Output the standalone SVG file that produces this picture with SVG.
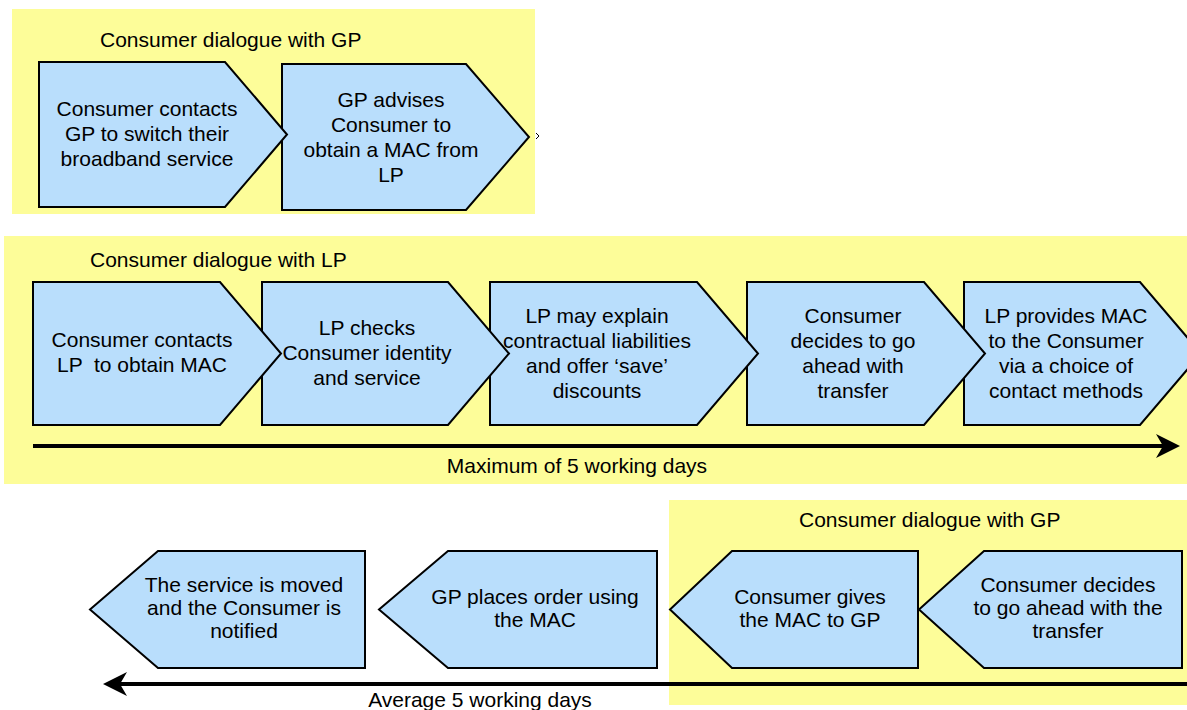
<svg xmlns="http://www.w3.org/2000/svg" width="1187" height="710" viewBox="0 0 1187 710">
<style>
.panel{fill:#FDFD99;stroke:none}
.node{fill:#B9DEFC;stroke:#000;stroke-width:2;stroke-linejoin:miter}
.t{font-family:"Liberation Sans",Arial,sans-serif;font-size:21px;fill:#000;text-anchor:middle;white-space:pre}
.lbl{font-family:"Liberation Sans",Arial,sans-serif;font-size:21px;fill:#000}
.line{stroke:#000;stroke-width:4;fill:none}
</style>
<defs>
<marker id="ah" viewBox="0 0 24 24" refX="7" refY="12" markerWidth="24" markerHeight="24" markerUnits="userSpaceOnUse" orient="auto">
<path d="M24,12 L0,0 L7,12 L0,24 Z" fill="#000"/>
</marker>
</defs>

<g id="panels">
<rect class="panel" x="12" y="9" width="523" height="205"/>
<rect class="panel" x="4" y="236" width="1183" height="248"/>
<rect class="panel" x="669" y="500" width="518" height="205"/>
</g>

<g id="titles">
<text class="lbl" x="100" y="47">Consumer dialogue with GP</text>
<text class="lbl" x="90" y="267">Consumer dialogue with LP</text>
<text class="lbl" x="799" y="527">Consumer dialogue with GP</text>
</g>

<!-- top row -->
<g id="top2">
<path class="node" d="M282,64 H466 L529,137 L466,210 H282 Z"/>
<text class="t" x="391" y="107">GP advises</text>
<text class="t" x="391" y="132">Consumer to</text>
<text class="t" x="391" y="157">obtain a MAC from</text>
<text class="t" x="391" y="182">LP</text>
</g>
<g id="top1">
<path class="node" d="M39,62 H225 L287,134.5 L225,207 H39 Z"/>
<text class="t" x="147" y="116">Consumer contacts</text>
<text class="t" x="147" y="141">GP to switch their</text>
<text class="t" x="147" y="166">broadband service</text>
</g>
<path id="mark" d="M536,133 L539,136 L536,139" fill="none" stroke="#000" stroke-width="1"/>

<!-- middle row -->
<g id="mid5">
<path class="node" d="M964,282 H1140 L1201,353.5 L1140,425 H964 Z"/>
<text class="t" x="1066" y="323">LP provides MAC</text>
<text class="t" x="1066" y="348">to the Consumer</text>
<text class="t" x="1066" y="373">via a choice of</text>
<text class="t" x="1066" y="398">contact methods</text>
</g>
<g id="mid4">
<path class="node" d="M747,282 H924 L985,353.5 L924,425 H747 Z"/>
<text class="t" x="853" y="323">Consumer</text>
<text class="t" x="853" y="348">decides to go</text>
<text class="t" x="853" y="373">ahead with</text>
<text class="t" x="853" y="398">transfer</text>
</g>
<g id="mid3">
<path class="node" d="M490,282 H697 L758,353.5 L697,425 H490 Z"/>
<text class="t" x="597" y="323">LP may explain</text>
<text class="t" x="597" y="348">contractual liabilities</text>
<text class="t" x="597" y="373">and offer ‘save’</text>
<text class="t" x="597" y="398">discounts</text>
</g>
<g id="mid2">
<path class="node" d="M262,282 H448 L509,353.5 L448,425 H262 Z"/>
<text class="t" x="367" y="335">LP checks</text>
<text class="t" x="367" y="360">Consumer identity</text>
<text class="t" x="367" y="385">and service</text>
</g>
<g id="mid1">
<path class="node" d="M33,282 H220 L281,353.5 L220,425 H33 Z"/>
<text class="t" x="142" y="347">Consumer contacts</text>
<text class="t" x="142" y="372">LP  to obtain MAC</text>
</g>

<!-- bottom row -->
<g id="botA">
<path class="node" d="M365,551 H158 L90,609.5 L158,668 H365 Z"/>
<text class="t" x="244" y="592">The service is moved</text>
<text class="t" x="244" y="615">and the Consumer is</text>
<text class="t" x="244" y="638">notified</text>
</g>
<g id="botB">
<path class="node" d="M657,551 H448 L379,609.5 L448,668 H657 Z"/>
<text class="t" x="535" y="604">GP places order using</text>
<text class="t" x="535" y="627">the MAC</text>
</g>
<g id="botC">
<path class="node" d="M918,551 H732 L670,609.5 L732,668 H918 Z"/>
<text class="t" x="810" y="604">Consumer gives</text>
<text class="t" x="810" y="627">the MAC to GP</text>
</g>
<g id="botD">
<path class="node" d="M1182,551 H984 L919,609.5 L984,668 H1182 Z"/>
<text class="t" x="1068" y="592">Consumer decides</text>
<text class="t" x="1068" y="615">to go ahead with the</text>
<text class="t" x="1068" y="638">transfer</text>
</g>

<g id="connectors">
<line class="line" x1="33" y1="446" x2="1163" y2="446" marker-end="url(#ah)"/>
<line class="line" x1="1190" y1="684" x2="120" y2="684" marker-end="url(#ah)"/>
</g>

<g id="labels">
<text class="lbl" x="577" y="473" text-anchor="middle">Maximum of 5 working days</text>
<text class="lbl" x="480" y="707" text-anchor="middle">Average 5 working days</text>
</g>
</svg>
